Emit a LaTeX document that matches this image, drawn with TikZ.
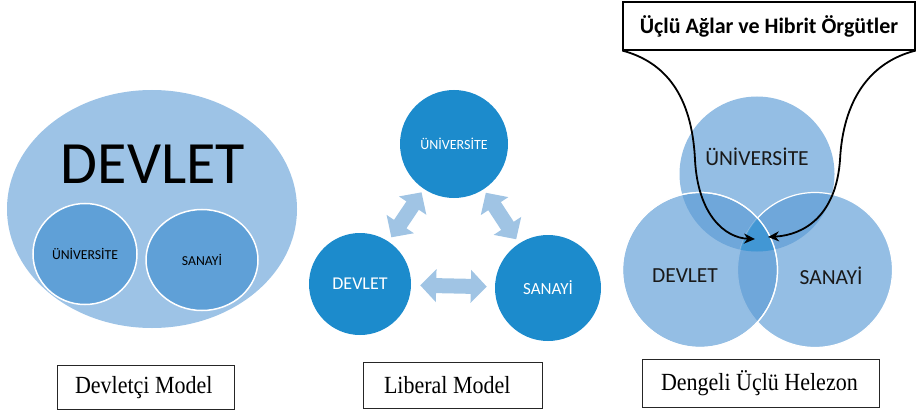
\documentclass[tikz,border=0pt]{standalone}
\usepackage{fontspec}
\setmainfont{Liberation Serif}
\newfontfamily\calfont{Carlito}
\usetikzlibrary{shapes.geometric,arrows.meta}
\definecolor{lightblue}{RGB}{157,195,230}
\definecolor{midblue}{RGB}{95,160,215}
\definecolor{strongblue}{RGB}{28,139,204}
\definecolor{arrowblue}{RGB}{160,196,228}
\definecolor{vennblue}{RGB}{91,155,213}
\definecolor{coreblue}{RGB}{40,145,210}
\newcommand{\fsz}[1]{\fontsize{#1}{#1}\selectfont}
\begin{document}
\begin{tikzpicture}[x=1pt,y=-1pt,
  sans/.style={font=\calfont},
  innercirc/.style={ellipse, fill=midblue, draw=white, line width=1.5pt, inner sep=0, text=black, font=\calfont\fsz{13.7}},
  libcirc/.style={circle, fill=strongblue, inner sep=0, text=white},
  dblarrow/.style={draw=arrowblue, line width=15pt, {Triangle[length=16pt,width=32pt]}-{Triangle[length=16pt,width=32pt]}},
  venn/.style={circle, fill=vennblue, fill opacity=0.65, text opacity=1, inner sep=0, minimum size=155pt, text=black!90, font=\calfont\fsz{21.5}},
  capbox/.style={draw=black!85, line width=1pt, fill=white, inner sep=0},
  captext/.style={font=\fsz{22}, anchor=west, yscale=1.12},
  curvearrow/.style={draw=black, line width=1.8pt, -{Stealth[length=11pt,width=10pt]}}
]
\useasboundingbox (0,0) rectangle (917,414);

% ---------- Devletci model ----------
\node[ellipse, fill=lightblue, minimum width=290pt, minimum height=238pt, inner sep=0] (state) at (152,209) {};
\node[font=\calfont\fsz{60}] (statetxt) at (153,164) {DEVLET};
\node[innercirc, minimum width=104pt, minimum height=101pt] (suni) at (85,254) {ÜNİVERSİTE};
\node[innercirc, minimum width=112pt, minimum height=101pt] (ssan) at (202,260) {SANAYİ};

% ---------- Liberal model ----------
\node[libcirc, minimum size=108pt, font=\calfont\fsz{14}] (muni) at (454,144) {ÜNİVERSİTE};
\node[libcirc, minimum size=102pt, font=\calfont\fsz{18}] (mdev) at (360,284) {DEVLET};
\node[libcirc, minimum size=106pt, font=\calfont\fsz{17}] (msan) at (548,288) {SANAYİ};
\draw[dblarrow, shorten <=5pt, shorten >=4pt] (mdev) -- (muni);
\draw[dblarrow, shorten <=4pt, shorten >=5pt] (muni) -- (msan);
\draw[dblarrow, shorten <=9pt, shorten >=8pt] (mdev) -- (msan);

% ---------- Dengeli uclu helezon ----------
\begin{scope}
  \clip (600,60) rectangle (917,346);
  \node[venn] (vuni) at (757,174) {};
  \node[venn, draw=white, draw opacity=1, line width=1.2pt] (vsan) at (815,270) {};
  \node[venn, draw=white, draw opacity=1, line width=1.2pt] (vdev) at (700,270) {};
  \begin{scope}
    \clip (757,174) circle[radius=77.5pt];
    \clip (815,270) circle[radius=77.5pt];
    \clip (700,270) circle[radius=77.5pt];
    \fill[coreblue, opacity=0.55] (600,60) rectangle (917,346);
  \end{scope}
  \draw[white, line width=1.2pt] (700,270) circle[radius=77.5pt];
\end{scope}
\node[font=\calfont\fsz{21.5}, text=black!90] (vunitxt) at (757,157) {ÜNİVERSİTE};
\node[font=\calfont\fsz{21.5}, text=black!90] (vdevtxt) at (685,276) {DEVLET};
\node[font=\calfont\fsz{21.5}, text=black!90] (vsantxt) at (831,276) {SANAYİ};

\node[draw=black, line width=1.2pt, fill=white, minimum width=292pt, minimum height=48pt, inner sep=0,
      font=\calfont\bfseries\fsz{22}] (title) at (769,26) {Üçlü Ağlar ve Hibrit Örgütler};
\coordinate (tipL) at (755,239);
\coordinate (tipR) at (768,237);
\draw[curvearrow] (title.south west) .. controls (665,62) and (692,95) .. (695,160)
                  .. controls (698,215) and (725,238) .. (tipL);
\draw[curvearrow] (title.south east) .. controls (870,62) and (843,100) .. (840,160)
                  .. controls (836,215) and (805,235) .. (tipR);

% ---------- caption boxes ----------
\node[capbox, minimum width=177pt, minimum height=44pt] (cap1) at (145.5,387.5) {};
\node[captext] (cap1t) at ([xshift=15pt]cap1.west) {Devletçi Model};
\node[capbox, minimum width=179pt, minimum height=46pt] (cap2) at (452.5,385) {};
\node[captext] (cap2t) at ([xshift=18pt]cap2.west) {Liberal Model};
\node[capbox, minimum width=237pt, minimum height=48pt] (cap3) at (760.5,383) {};
\node[captext] (cap3t) at ([xshift=16pt]cap3.west) {Dengeli Üçlü Helezon};
\end{tikzpicture}
\end{document}
